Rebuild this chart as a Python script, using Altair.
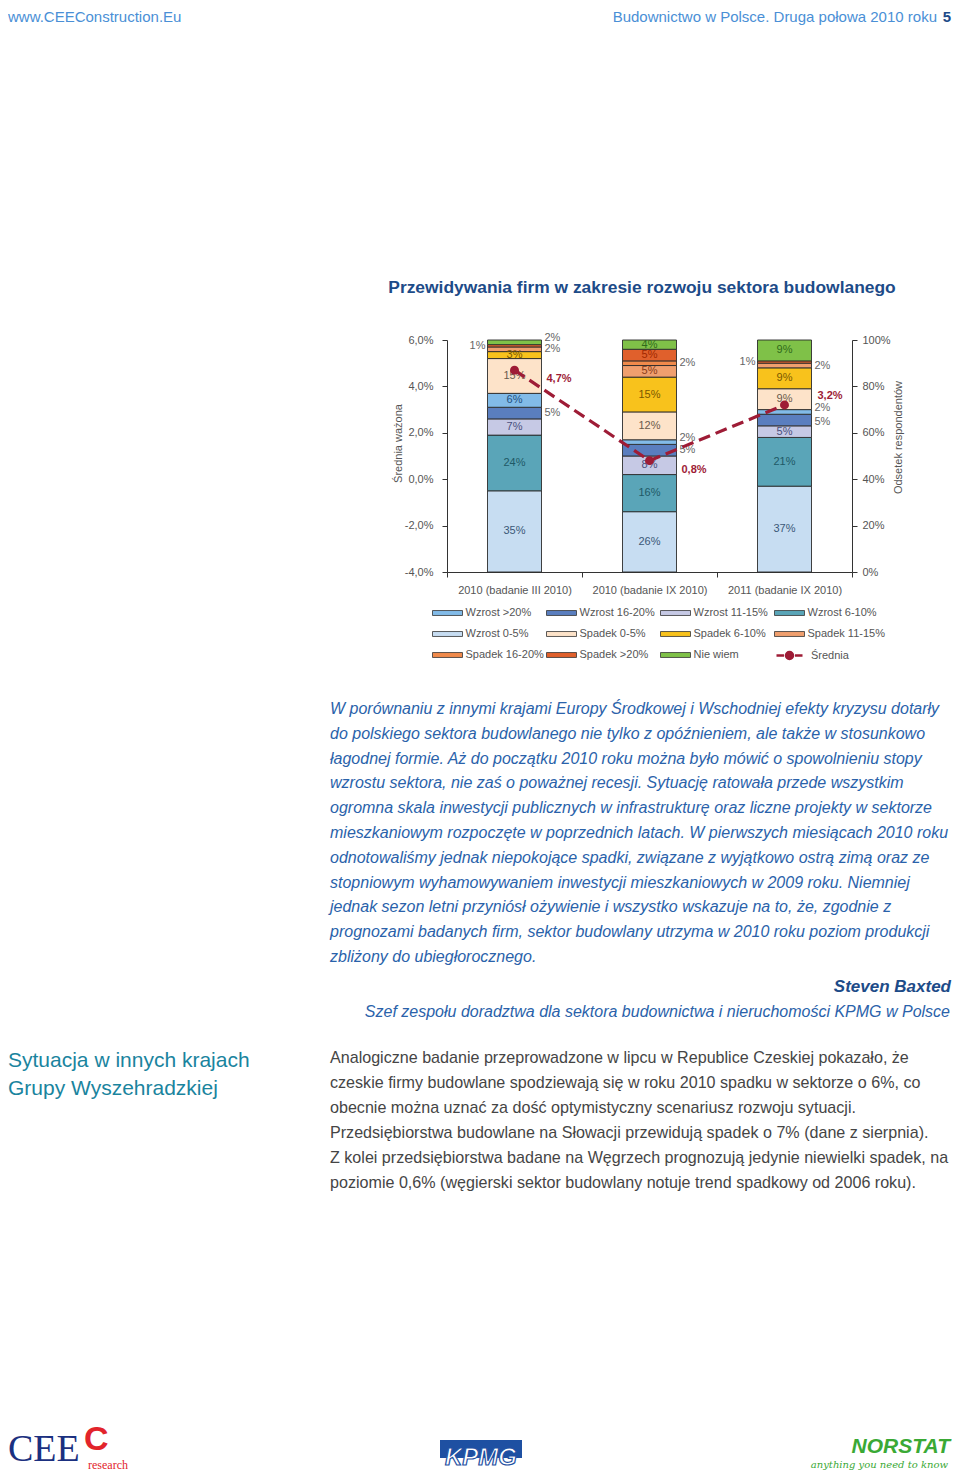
import altair as alt
import pandas as pd

# ------------------------------------------------------------------ data
categories = ["2010 (badanie III 2010)", "2010 (badanie IX 2010)", "2011 (badanie IX 2010)"]
series_stack = ["Wzrost 0-5%", "Wzrost 6-10%", "Wzrost 11-15%", "Wzrost 16-20%", "Wzrost >20%",
                "Spadek 0-5%", "Spadek 6-10%", "Spadek 11-15%", "Spadek 16-20%", "Spadek >20%",
                "Nie wiem"]
legend_order = ["Wzrost >20%", "Wzrost 16-20%", "Wzrost 11-15%", "Wzrost 6-10%", "Wzrost 0-5%",
                "Spadek 0-5%", "Spadek 6-10%", "Spadek 11-15%", "Spadek 16-20%", "Spadek >20%",
                "Nie wiem"]
legend_colors = ["#82bbe8", "#5a7ebf", "#c6c9e5", "#5aa5b8", "#c7ddf2",
                 "#fde3c9", "#f8c21c", "#f09f6e", "#f08a4b", "#e0602c", "#7fc148"]
label_colors = ["#3b5877", "#1f5966", "#4a4f7c", "#1e3266", "#21507f",
                "#6a5a4c", "#7a5800", "#8a3c18", "#8a3c18", "#a02800", "#2f6a1a"]

values_2010_III = [35, 24, 7, 5, 6, 15, 3, 2, 0, 1, 2]
values_2010_IX = [26, 16, 8, 5, 2, 12, 15, 5, 2, 5, 4]
values_2011_IX = [37, 21, 5, 5, 2, 9, 9, 2, 0, 1, 9]
side_2010_III = ["in", "in", "in", "right", "in", "in", "in", "right", "", "left", "right_up"]
side_2010_IX = ["in", "in", "in", "right", "right_up", "in", "in", "in", "right", "in", "in"]
side_2011_IX = ["in", "in", "in", "right_down", "right_up", "in", "in", "right", "", "left", "in"]
average = [4.7, 0.8, 3.2]

left_ticks = [-4, -2, 0, 2, 4, 6]
right_ticks = [0, 20, 40, 60, 80, 100]

header_left = "www.CEEConstruction.Eu"
header_right = "Budownictwo w Polsce. Druga połowa 2010 roku"
page_no = "5"
chart_title = "Przewidywania firm w zakresie rozwoju sektora budowlanego"
quote_lines = [
    "W porównaniu z innymi krajami Europy Środkowej i Wschodniej efekty kryzysu dotarły",
    "do polskiego sektora budowlanego nie tylko z opóźnieniem, ale także w stosunkowo",
    "łagodnej formie. Aż do początku 2010 roku można było mówić o spowolnieniu stopy",
    "wzrostu sektora, nie zaś o poważnej recesji. Sytuację ratowała przede wszystkim",
    "ogromna skala inwestycji publicznych w infrastrukturę oraz liczne projekty w sektorze",
    "mieszkaniowym rozpoczęte w poprzednich latach. W pierwszych miesiącach 2010 roku",
    "odnotowaliśmy jednak niepokojące spadki, związane z wyjątkowo ostrą zimą oraz ze",
    "stopniowym wyhamowywaniem inwestycji mieszkaniowych w 2009 roku. Niemniej",
    "jednak sezon letni przyniósł ożywienie i wszystko wskazuje na to, że, zgodnie z",
    "prognozami badanych firm, sektor budowlany utrzyma w 2010 roku poziom produkcji",
    "zbliżony do ubiegłorocznego.",
]
author = "Steven Baxted"
author_role = "Szef zespołu doradztwa dla sektora budownictwa i nieruchomości KPMG w Polsce"
section_lines = ["Sytuacja w innych krajach", "Grupy Wyszehradzkiej"]
section_text = [
    "Analogiczne badanie przeprowadzone w lipcu w Republice Czeskiej pokazało, że",
    "czeskie firmy budowlane spodziewają się w roku 2010 spadku w sektorze o 6%, co",
    "obecnie można uznać za dość optymistyczny scenariusz rozwoju sytuacji.",
    "Przedsiębiorstwa budowlane na Słowacji przewidują spadek o 7% (dane z sierpnia).",
    "Z kolei przedsiębiorstwa badane na Węgrzech prognozują jedynie niewielki spadek, na",
    "poziomie 0,6% (węgierski sektor budowlany notuje trend spadkowy od 2006 roku).",
]

# ------------------------------------------------------------------ tables
rows = []
for cat, vals, sides in zip(categories,
                            [values_2010_III, values_2010_IX, values_2011_IX],
                            [side_2010_III, side_2010_IX, side_2011_IX]):
    for j, s in enumerate(series_stack):
        rows.append({"cat": cat, "series": s, "val": vals[j], "order": j, "side": sides[j]})
df = pd.DataFrame(rows)
avg_df = pd.DataFrame({"cat": categories, "avg": average, "name": ["Średnia"] * 3,
                       "idx": [0, 1, 2]})
one = pd.DataFrame({"a": [0]})

F = "Liberation Sans"
GREY = "#555555"
W, H = 944, 1464

xscale = alt.Scale(domain=categories, range=[439, 844], paddingInner=0, paddingOuter=0)
yR = alt.Scale(domain=[0, 100], range=[564, 332], nice=False, zero=False)
yL = alt.Scale(domain=[-4, 6], range=[564, 332], nice=False, zero=False)

xaxis = alt.Axis(title=None, orient="bottom", offset=564 - H, tickBand="extent", labelAngle=0,
                 labelFont=F, labelFontSize=11, labelColor=GREY, domainColor="#333",
                 tickColor="#333", tickSize=5, labelPadding=7, grid=False)
xenc = alt.X("cat:N", scale=xscale, axis=xaxis)

base = (alt.Chart(df)
        .transform_filter("datum.val > 0")
        .transform_stack(stack="val", groupby=["cat"],
                         sort=[alt.SortField("order", order="ascending")], as_=["y0", "y1"])
        .transform_calculate(mid="(datum.y0 + datum.y1) / 2", lbl="datum.val + '%'"))

bars = base.mark_bar(width=alt.RelativeBandSize(0.4), stroke="#2b2b2b", strokeWidth=0.9).encode(
    x=xenc,
    y=alt.Y("y0:Q", scale=yR, axis=alt.Axis(
        orient="right", offset=844 - W, values=right_ticks, labelExpr="datum.value + '%'",
        title="Odsetek respondentów", titleAngle=270, titleFont=F, titleFontSize=11,
        titleFontWeight="normal", titleColor=GREY, titlePadding=13, titleY=429,
        labelFont=F, labelFontSize=11, labelColor=GREY, domainColor="#333", tickColor="#333",
        tickSize=5, labelPadding=5, grid=False)),
    y2="y1:Q",
    color=alt.Color("series:N", scale=alt.Scale(domain=legend_order, range=legend_colors),
                    legend=alt.Legend(
                        title=None, orient="none", legendX=424, legendY=597, columns=4,
                        direction="horizontal",
                        symbolType="M-2,-0.33H2V0.33H-2Z", symbolSize=225, symbolOffset=7.5,
                        symbolStrokeColor="#333", symbolStrokeWidth=0.8, labelOffset=10,
                        labelFont=F, labelFontSize=11, labelColor=GREY, rowPadding=8,
                        columnPadding=0, padding=0, gridAlign="all")),
)

lab_in = base.transform_filter("datum.side == 'in'").mark_text(font=F, fontSize=11).encode(
    x=xenc, y=alt.Y("mid:Q", scale=yR, axis=None), text="lbl:N",
    color=alt.Color("series:N", scale=alt.Scale(domain=series_stack, range=label_colors),
                    legend=None))
lab_right = base.transform_filter("datum.side == 'right'").mark_text(
    font=F, fontSize=11, align="left", dx=30, color="#666").encode(
    x=xenc, y=alt.Y("mid:Q", scale=yR, axis=None), text="lbl:N")
lab_right_up = base.transform_filter("datum.side == 'right_up'").mark_text(
    font=F, fontSize=11, align="left", dx=30, dy=-4, color="#666").encode(
    x=xenc, y=alt.Y("mid:Q", scale=yR, axis=None), text="lbl:N")
lab_right_down = base.transform_filter("datum.side == 'right_down'").mark_text(
    font=F, fontSize=11, align="left", dx=30, dy=2, color="#666").encode(
    x=xenc, y=alt.Y("mid:Q", scale=yR, axis=None), text="lbl:N")
lab_left = base.transform_filter("datum.side == 'left'").mark_text(
    font=F, fontSize=11, align="right", dx=-29, color="#666").encode(
    x=xenc, y=alt.Y("mid:Q", scale=yR, axis=None), text="lbl:N")

RED = "#9e1c36"
avg_base = alt.Chart(avg_df).transform_calculate(
    lbl="replace(format(datum.avg, '.1f'), '.', ',') + '%'")
line = avg_base.mark_line(strokeDash=[12, 6], strokeWidth=3.2).encode(
    x=xenc,
    y=alt.Y("avg:Q", scale=yL, axis=alt.Axis(
        orient="left", offset=-439, values=left_ticks,
        labelExpr="replace(replace(format(datum.value, '.1f'), '.', ','), '\u2212', '-') + '%'",
        title="Średnia ważona", titleFont=F, titleFontSize=11, titleFontWeight="normal",
        titleColor=GREY, titlePadding=1, titleY=435, labelFont=F, labelFontSize=11,
        labelColor=GREY, domainColor="#333", tickColor="#333", tickSize=5, labelPadding=9,
        grid=False)),
    stroke=alt.Stroke("name:N", scale=alt.Scale(domain=["Średnia"], range=[RED]),
                      legend=alt.Legend(
                          title=None, orient="none", legendX=767, legendY=633,
                          symbolType="M-1,0H-0.42M0.42,0H1M-0.27,0A0.27,0.27,0,1,1,0.27,0A0.27,0.27,0,1,1,-0.27,0Z",
                          symbolSize=676, symbolOffset=0, symbolFillColor=RED,
                          symbolStrokeColor=RED, symbolStrokeWidth=2.5, symbolDash=[40, 0],
                          labelOffset=7, labelFont=F, labelFontSize=11, labelColor=GREY,
                          padding=0)),
)
dots = avg_base.mark_circle(size=80, color=RED, opacity=1).encode(
    x=xenc, y=alt.Y("avg:Q", scale=yL, axis=None))
avg_lab_a = avg_base.transform_filter("datum.idx < 2").mark_text(
    font=F, fontSize=11, fontWeight="bold", color=RED, align="left", dx=32, dy=9).encode(
    x=xenc, y=alt.Y("avg:Q", scale=yL, axis=None), text="lbl:N")
avg_lab_b = avg_base.transform_filter("datum.idx == 2").mark_text(
    font=F, fontSize=11, fontWeight="bold", color=RED, align="left", dx=33, dy=-9).encode(
    x=xenc, y=alt.Y("avg:Q", scale=yL, axis=None), text="lbl:N")


def txt(text, x, y, **kw):
    params = dict(font=F, align="left", baseline="top")
    params.update(kw)
    return alt.Chart(one).mark_text(**params).encode(
        x=alt.value(x), y=alt.value(y), text=alt.value(text))


LBLUE = "#4a8fd6"
NAVY = "#1d4b88"
BODY = "#2a62aa"
page = [
    txt(header_left, 0, 2, fontSize=15, color=LBLUE),
    txt(header_right, 929, 2, fontSize=15, color=LBLUE, align="right"),
    txt(page_no, 943, 2, fontSize=15, color=NAVY, align="right", fontWeight="bold"),
    txt(chart_title, 634, 280, fontSize=17.4, color=NAVY, align="center", baseline="middle",
        fontWeight="bold"),
    txt(quote_lines, 322, 693, fontSize=16, color=BODY, fontStyle="italic", lineHeight=24.8),
    txt(author, 943, 979, fontSize=17, color=NAVY, align="right", baseline="middle",
        fontStyle="italic", fontWeight="bold"),
    txt(author_role, 942, 1004, fontSize=16, color=BODY, align="right", baseline="middle",
        fontStyle="italic"),
    txt(section_lines, 0, 1042, fontSize=21, color="#1a849e", lineHeight=28),
    txt(section_text, 322, 1042, fontSize=16.1, color="#454545", lineHeight=25),
    # logos (approximated with text and one block)
    txt("CEE", 0, 1453, fontSize=38, color="#1b3080", font="Liberation Serif",
        baseline="alphabetic"),
    txt("C", 76, 1442, fontSize=34, color="#e2242b", fontWeight="bold", baseline="alphabetic"),
    txt("research", 80, 1461, fontSize=12, color="#e2242b", font="Liberation Serif",
        baseline="alphabetic"),
    alt.Chart(one).mark_rect(color="#1e50a2").encode(
        x=alt.value(432), x2=alt.value(514), y=alt.value(1432), y2=alt.value(1450)),
    txt("KPMG", 473, 1450, fontSize=24, color="#ffffff", stroke="#1e50a2", strokeWidth=1.2,
        align="center", baseline="middle", fontWeight="bold", fontStyle="italic"),
    txt("NORSTAT", 942, 1439, fontSize=21, color="#3aa935", align="right", baseline="middle",
        fontWeight="bold", fontStyle="italic"),
    txt("anything you need to know", 940, 1457, fontSize=10, color="#3aa935", align="right",
        baseline="middle", fontStyle="italic", font="DejaVu Serif"),
]

chart = alt.layer(bars, lab_in, lab_right, lab_right_up, lab_right_down, lab_left, line, dots,
                  avg_lab_a, avg_lab_b, *page).resolve_scale(
    y="independent", color="independent").properties(
    width=W, height=H, autosize=alt.AutoSizeParams(type="none"), padding=0,
    background="white").configure_view(stroke=None)

chart.save("out.html", embed_options={"renderer": "svg", "actions": False})
